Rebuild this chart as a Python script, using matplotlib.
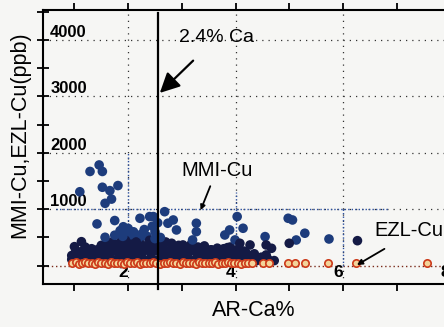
import numpy as np
import matplotlib
matplotlib.use("Agg")
import matplotlib.pyplot as plt
from matplotlib.transforms import ScaledTranslation

plt.rcParams['font.family'] = ['Liberation Sans', 'DejaVu Sans']

# ---------------- data ----------------
mmi_upper_x = [1.29, 1.46, 1.52, 1.10, 1.52, 1.66, 1.81, 1.69, 1.57,
               1.42, 1.75, 1.91, 2.22, 2.40, 1.13, 1.00, 1.57,
               2.68, 2.84, 2.90, 2.74, 3.27, 3.27, 4.03, 3.89, 4.14, 3.80, 3.99,
               4.08, 4.27, 2.81, 3.20, 3.40, 3.02, 2.47,
               4.98, 5.06, 5.29, 5.13, 5.00, 5.74, 6.27, 4.55, 4.57, 4.67, 4.57]
mmi_upper_y = [1670, 1785, 1670, 1310, 1390, 1330, 1420, 1180, 1105,
               740, 800, 690, 840, 870, 425, 337, 503,
               957, 810, 633, 752, 752, 603, 870, 633, 663, 544, 456,
               397, 367, 397, 456, 308, 367, 870,
               840, 810, 575, 455, 397, 473, 443, 515, 367, 308, 190]

mmi_mid_x = [1.85, 2.00, 2.10, 2.30, 2.45, 2.20, 1.95, 1.70, 2.35, 2.55, 2.50,
             1.80, 2.05, 2.15, 2.40, 1.60, 2.60, 2.30, 1.30, 1.15, 1.05, 1.40, 1.20,
             1.90, 2.25, 2.00, 1.75, 2.50]
mmi_mid_y = [620, 560, 600, 640, 700, 500, 450, 420, 520, 760, 600,
             350, 380, 420, 450, 300, 500, 350, 260, 200, 250, 230, 330,
             520, 560, 660, 540, 480]

band_x = [0.95, 1.02, 1.08, 1.15, 1.22, 1.28, 1.35, 1.42, 1.48, 1.55, 1.62, 1.68, 1.75,
          1.82, 1.88, 1.95, 2.02, 2.08, 2.15, 2.22, 2.28, 2.35, 2.42, 2.48, 2.55, 2.62,
          2.68, 2.75, 2.82, 2.88, 2.95, 3.02, 3.08, 3.15, 3.22, 3.28, 3.35, 3.42, 3.48,
          3.55, 3.62, 3.68, 3.75, 3.82, 3.88, 3.95, 4.02, 4.08, 4.15, 4.22, 4.30, 4.38]
band_y1 = [110, 90, 130, 100, 80, 120, 95, 140, 105, 85, 125, 100, 90, 135, 110, 80, 120,
           95, 140, 100, 115, 90, 130, 105, 85, 120, 100, 140, 95, 110, 130, 85, 120, 100,
           90, 135, 105, 80, 125, 110, 95, 130, 100, 85, 120, 105, 90, 115, 80, 100, 90, 85]
band_y2 = [180, 240, 200, 260, 190, 230, 210, 280, 250, 200, 300, 240, 270, 220, 310, 260,
           240, 290, 230, 270, 250, 300, 230, 320, 260, 210, 280, 250, 230, 300, 240, 270,
           220, 250, 290, 230, 260, 210, 240, 280, 220, 250, 200, 230, 260, 190, 210, 240,
           170, 200, 180, 150]
band3_x = [1.50, 1.62, 1.74, 1.86, 1.98, 2.10, 2.22, 2.34, 2.46, 2.58, 2.70, 2.82, 2.94,
           3.06, 3.18, 3.30, 3.42, 3.54, 3.66, 3.78, 3.90, 4.02, 4.14]
band3_y = [360, 400, 330, 430, 380, 470, 400, 520, 440, 380, 420, 330, 360, 300, 390,
           330, 350, 280, 310, 300, 330, 280, 260]
band4_x = [1.05, 1.18, 1.32, 1.45, 1.58, 1.72, 1.88, 2.04, 2.18, 2.32, 2.64, 2.78, 2.92,
           3.10, 3.24, 3.38, 3.52, 3.70, 3.85, 4.00, 4.18, 4.35, 4.48, 4.60, 4.72]
band4_y = [160, 180, 300, 200, 240, 330, 200, 310, 360, 290, 330, 180, 300, 180, 330,
           190, 230, 180, 320, 170, 250, 210, 150, 120, 90]

ezl_x = [0.96, 1.02, 1.08, 1.14, 1.20, 1.26, 1.32, 1.38, 1.44, 1.50, 1.56, 1.62, 1.68,
         1.74, 1.80, 1.86, 1.92, 1.98, 2.04, 2.10, 2.16, 2.22, 2.28, 2.34, 2.40, 2.46,
         2.52, 2.60, 2.66, 2.72, 2.78, 2.84, 2.90, 2.96, 3.02, 3.08, 3.14, 3.20, 3.26,
         3.32, 3.38, 3.44, 3.50, 3.56, 3.62, 3.68, 3.74, 3.80, 3.86, 3.92, 3.98, 4.04,
         4.10, 4.17, 4.23, 4.30, 4.51, 4.63, 4.98, 5.10, 5.29, 5.72, 6.25, 7.56]
ezl_y = [45, 60, 35, 50, 70, 40, 55, 30, 65, 45, 50, 35, 60, 40, 55, 45, 30, 60, 50, 40,
         65, 35, 55, 45, 40, 60, 50, 35, 55, 45, 65, 40, 50, 30, 60, 45, 55, 40, 35, 60,
         50, 45, 55, 40, 65, 35, 50, 45, 60, 40, 55, 45, 35, 50, 45, 40, 40, 45, 50, 45,
         40, 45, 40, 45]

ca_threshold = 2.55
x_ticks = [2, 4, 6, 8]
y_ticks = [1000, 2000, 3000, 4000]

# ---------------- figure ----------------
bg = '#f6f6f4'
fig = plt.figure(figsize=(4.44, 3.27), dpi=100, facecolor=bg)
ax = fig.add_axes([43.3 / 444, 43 / 327, 8.18 * 53.7 / 444, 274 / 327])
ax.set_facecolor(bg)
ax.set_xlim(0.42, 8.6)
ax.set_ylim(-325, 4532)

# grid (sparse black dots)
dot = (0, (1, 4))
for gy in [1000, 2000, 3000, 4000]:
    ax.axhline(gy, color='#333333', lw=0.9, ls=dot, zorder=1)
for gx in [2, 4, 6]:
    ax.axvline(gx, color='#333333', lw=0.9, ls=dot, zorder=1)
ax.axhline(0, color='#7a2a1a', lw=1.0, ls=(0, (1, 2)), zorder=1)

# blue dotted box lines
blue = '#2a4fa0'
ax.plot([0.65, 6.85], [1000, 1000], color=blue, lw=1.0, ls=(0, (1, 1.5)), zorder=1)
ax.plot([2, 2], [0, 2000], color=blue, lw=1.0, ls=(0, (1, 1.5)), zorder=1)
ax.plot([4, 4], [0, 1300], color=blue, lw=1.0, ls=(0, (1, 1.5)), zorder=1)
ax.plot([6, 6], [0, 1000], color=blue, lw=1.0, ls=(0, (1, 1.5)), zorder=1)

# MMI points
mx = np.array(band_x + band_x + band3_x + band4_x + mmi_mid_x + mmi_upper_x)
my = np.array(band_y1 + band_y2 + band3_y + band4_y + mmi_mid_y + mmi_upper_y)
cols = np.where(my > 450, '#1d3c7c', '#141a45')
ax.scatter(mx, my, s=48, c=cols, edgecolors='none', zorder=3)

# EZL points
ax.scatter(ezl_x, ezl_y, s=28, facecolors='#f3d49a', edgecolors='#cc3a1a',
           linewidths=1.2, zorder=4)

# threshold line
ax.plot([ca_threshold, ca_threshold], [-420, 4480], color='black', lw=1.6,
        zorder=5, clip_on=False)

# annotations
ax.annotate('2.4% Ca', xy=(2.59, 3062), xytext=(3.65, 4040), fontsize=14,
            ha='center', va='center', zorder=6,
            arrowprops=dict(arrowstyle='-|>', color='black', lw=1.6,
                            mutation_scale=30, shrinkA=12, shrinkB=0))
ax.annotate('MMI-Cu', xy=(3.35, 984), xytext=(3.65, 1695), fontsize=14.5,
            ha='center', va='center', zorder=6,
            arrowprops=dict(arrowstyle='-|>', color='black', lw=1.3,
                            mutation_scale=7, shrinkA=3, shrinkB=0))
ax.annotate('EZL-Cu', xy=(6.26, 12), xytext=(6.59, 615), fontsize=14.5,
            ha='left', va='center', zorder=6, annotation_clip=False,
            arrowprops=dict(arrowstyle='-|>', color='black', lw=1.3,
                            mutation_scale=8, relpos=(0.35, 0), shrinkA=8, shrinkB=0))

# ticks
ax.set_xticks(x_ticks)
ax.set_xticks([1, 3, 5, 7], minor=True)
ax.set_xticklabels([str(v) for v in x_ticks], fontsize=12.5, fontweight='bold')
ax.set_yticks([0] + y_ticks)
ax.set_yticks([500, 1500, 2500, 3500, 4500], minor=True)
ax.set_yticklabels([''] + [str(v) for v in y_ticks], fontsize=12, fontweight='bold')

ax.tick_params(axis='x', which='both', direction='out', length=5, width=1.3,
               top=True, pad=-19)
ax.tick_params(axis='y', which='both', direction='inout', length=8, width=1.3,
               pad=-9)
for lab in ax.get_yticklabels():
    lab.set_horizontalalignment('left')
    lab.set_transform(lab.get_transform() + ScaledTranslation(0, 9 / 100, fig.dpi_scale_trans))
for lab in ax.get_xticklabels():
    lab.set_transform(lab.get_transform() + ScaledTranslation(-5 / 100, 0, fig.dpi_scale_trans))

for s in ax.spines.values():
    s.set_linewidth(1.5)
ax.spines['right'].set_visible(False)

fig.text(20 / 444, 1 - 135 / 327, 'MMI-Cu,EZL-Cu(ppb)', rotation=90, fontsize=15.5,
         ha='center', va='center')
fig.text(254 / 444, 1 - 311 / 327, 'AR-Ca%', fontsize=15.5, ha='center', va='center')

fig.savefig('out.png', dpi=100, facecolor=bg)
